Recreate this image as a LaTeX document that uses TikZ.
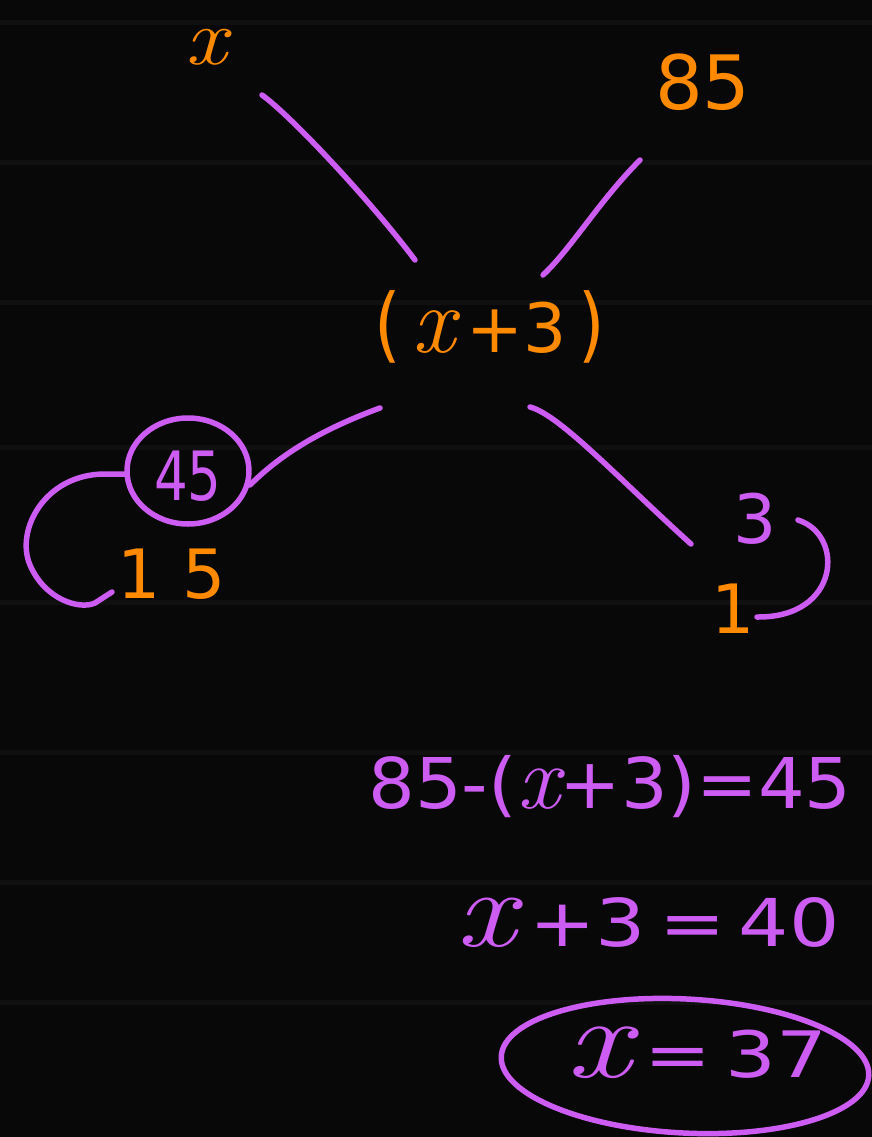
\documentclass[tikz,border=0pt]{standalone}
\usepackage{fontspec}
\usepackage{graphicx}
\newfontfamily\dv{DejaVu Sans}
\usetikzlibrary{shapes.geometric}
\definecolor{bg}{HTML}{080808}
\definecolor{org}{HTML}{FF8A00}
\definecolor{pur}{HTML}{CC5CF2}
\newcommand{\myx}[1]{{\rmfamily\fontsize{#1}{#1}\selectfont\itshape x}}
\tikzset{
  pen/.style={draw=pur, line width=5.5pt, line cap=round, line join=round},
  otext/.style={text=org, inner sep=0pt, anchor=base, font=\dv\fontsize{68}{72}\selectfont},
  ptext/.style={text=pur, inner sep=0pt, anchor=base, font=\dv\fontsize{68}{72}\selectfont},
}
\begin{document}
\begin{tikzpicture}[x=1pt,y=-1pt]
\fill[bg] (0,0) rectangle (872,1137);
\useasboundingbox (0,0) rectangle (872,1137);
% faint background bands
\foreach \yy in {20,160,300,445,600,750,880,1000}{
  \fill[white, opacity=0.035] (0,\yy) rectangle (872,\yy+5);
}
% labels
\node[otext, font=\rmfamily\fontsize{80}{80}\selectfont] (xtop) at (206,65) {\scalebox{1.15}[1]{\itshape x}};
\node[otext, font=\dv\fontsize{75}{80}\selectfont] (n85) at (703,110) {85};
\node[otext] (mid) at (490,352) {\scalebox{1}[1.2]{(}\,\myx{95}\,+3\,\scalebox{1}[1.2]{)}};
\node[ptext] (n45) at (188,500) {\scalebox{0.78}[1]{45}};
\node[pen, ellipse, minimum width=122pt, minimum height=106pt] (c45) at (188,471) {};
\node[otext] (n15) at (172,598) {1 5};
\node[ptext] (n3) at (755,543) {3};
\node[otext] (n1) at (733,633) {1};
% branch connectors
\coordinate (a1) at (262,95);  \coordinate (a2) at (415,260);
\coordinate (b1) at (640,160); \coordinate (b2) at (543,275);
\coordinate (c1) at (380,408); \coordinate (c2) at (250,485);
\coordinate (d1) at (530,407); \coordinate (d2) at (691,544);
\draw[pen] (a1) .. controls (290,115) and (370,200) .. (a2);
\draw[pen] (b1) .. controls (600,200) and (570,250) .. (b2);
\draw[pen] (c1) .. controls (320,430) and (280,455) .. (c2);
\draw[pen] (d1) .. controls (560,415) and (620,480) .. (d2);
% left bracket arc
\coordinate (e1) at (127,474); \coordinate (e2) at (112,592);
\draw[pen] (e1) -- (105,474) .. controls (45,474) and (15,530) .. (30,565) .. controls (45,600) and (80,610) .. (95,603) -- (e2);
% right bracket arc
\coordinate (f1) at (798,520); \coordinate (f2) at (757,617);
\draw[pen] (f1) .. controls (845,535) and (840,618) .. (f2);
% equations
\node[ptext, font=\dv\fontsize{70}{74}\selectfont] (eq1) at (610,808) {\scalebox{1.05}[1]{85-(\myx{90}+3)=45}};
\node[ptext, font=\dv\fontsize{66}{70}\selectfont] (eq2) at (648,946) {\scalebox{1.2}[1]{\myx{110}\,+3\,=\,40}};
\node[ptext, font=\dv\fontsize{64}{68}\selectfont] (eq3) at (697,1077) {\scalebox{1.25}[1]{\myx{115}\,=\,37}};
\node[pen, ellipse, minimum width=368pt, minimum height=134pt, rotate=-3] (ring) at (685,1066) {};
\end{tikzpicture}
\end{document}
